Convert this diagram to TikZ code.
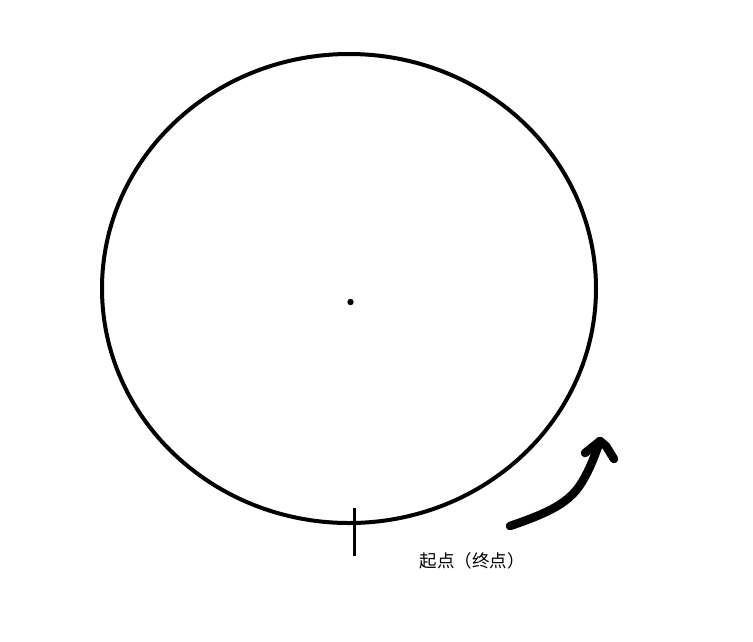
\documentclass[tikz,border=0pt]{standalone}
\usepackage{fontspec}
\newfontfamily\cjk{Noto Sans CJK SC}
\begin{document}
\begin{tikzpicture}[x=1pt,y=-1pt,
  stroke/.style={line width=4pt},
  thick stroke/.style={line width=8.5pt, line cap=round, line join=round}]
\useasboundingbox[fill=white] (0,0) rectangle (753,641);
\coordinate (c) at (349,288.5);
\draw[stroke] (c) ellipse [x radius=247, y radius=234.5];
\fill (350.5,302) circle [radius=3.2];
\coordinate (t1) at (354,508);
\coordinate (t2) at (354,556);
\draw[line width=3pt] (t1) -- (t2);
\node[font=\cjk\fontsize{17.5}{20}\selectfont, text=black, inner sep=0pt] (lbl) at (472,561) {起点（终点）};
\draw[thick stroke] (510,526) .. controls (545,514) and (565,505) .. (578,488) .. controls (588,474) and (594,458) .. (600,441);
\draw[thick stroke] (585,453) -- (600,441) -- (606,446) -- (614,459);
\end{tikzpicture}
\end{document}
